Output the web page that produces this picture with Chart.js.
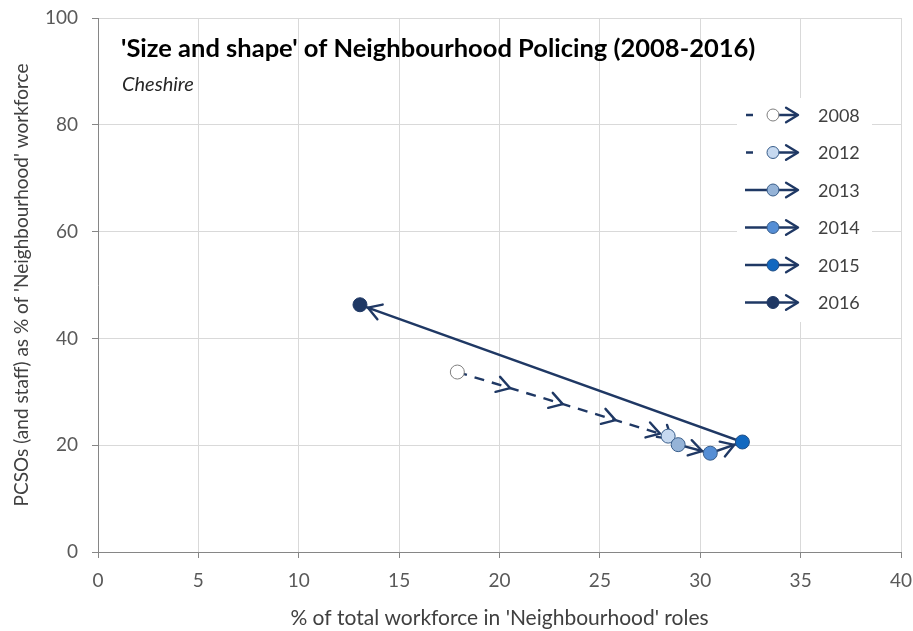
<!DOCTYPE html>
<html>
<head>
<meta charset="utf-8">
<script src="https://cdn.jsdelivr.net/npm/chart.js@4.4.1/dist/chart.umd.min.js"></script>
<style>
  body { margin: 0; background: #fff; }
</style>
</head>
<body>
<canvas id="policing" width="913" height="631"></canvas>
<script>
// values
const years = ['2008', '2012', '2013', '2014', '2015', '2016'];
const neighbourhoodShare = [17.9, 28.4, 28.9, 30.5, 32.1, 13.05];
const pcsoShare = [33.7, 21.7, 20.1, 18.5, 20.6, 46.3];
const xTicks = [0, 5, 10, 15, 20, 25, 30, 35, 40];
const yTicks = [0, 20, 40, 60, 80, 100];

const markerFill = ['#ffffff', '#c6d9f0', '#95b3d7', '#558ed5', '#1168c0', '#1f3864'];
const markerEdge = ['#7f7f7f', '#385d8a', '#385d8a', '#385d8a', '#1f4e86', '#1f3864'];
const lineColour = '#1f3864';
const FONT = 'Lato, "Open Sans", sans-serif';

function arrowHead(ctx, tipX, tipY, angle, len) {
    ctx.beginPath();
    ctx.moveTo(tipX - len * Math.cos(angle - 0.55), tipY - len * Math.sin(angle - 0.55));
    ctx.lineTo(tipX, tipY);
    ctx.lineTo(tipX - len * Math.cos(angle + 0.55), tipY - len * Math.sin(angle + 0.55));
    ctx.stroke();
}

// chevrons along the path: 3 mid-way ones on the dashed 2008-2012 stretch, one at each arrival
const arrowPlugin = {
    id: 'arrows',
    afterDatasetDraw(chart, args) {
        if (args.index !== 0) return;
        const ctx = chart.ctx, xs = chart.scales.x, ys = chart.scales.y;
        const px = neighbourhoodShare.map(v => xs.getPixelForValue(v));
        const py = pcsoShare.map(v => ys.getPixelForValue(v));
        ctx.save();
        ctx.strokeStyle = lineColour;
        ctx.lineWidth = 2.4;
        ctx.lineCap = 'round';
        ctx.lineJoin = 'round';
        for (let i = 1; i < px.length; i++) {
            const dx = px[i] - px[i - 1], dy = py[i] - py[i - 1];
            const len = Math.hypot(dx, dy);
            const a = Math.atan2(dy, dx);
            const stops = i === 1 ? [0.25, 0.5, 0.75] : [];
            stops.forEach(t => arrowHead(ctx, px[i - 1] + dx * t, py[i - 1] + dy * t, a, 15));
            const back = 8.5;
            arrowHead(ctx, px[i] - back * dx / len, py[i] - back * dy / len, a, 15);
        }
        ctx.restore();
    }
};

const textPlugin = {
    id: 'texts',
    afterDraw(chart) {
        const ctx = chart.ctx;
        ctx.save();
        ctx.textBaseline = 'middle';
        ctx.textAlign = 'left';
        ctx.fillStyle = '#000000';
        ctx.font = 'bold 25.5px ' + FONT;
        ctx.fillText("'Size and shape' of Neighbourhood Policing (2008-2016)", 121, 49);
        ctx.fillStyle = '#262626';
        ctx.font = 'italic 20px ' + FONT;
        ctx.fillText('Cheshire', 122, 85);

        // legend
        ctx.fillStyle = '#ffffff';
        ctx.fillRect(737, 98, 135, 224);
        years.forEach((yr, i) => {
            const y = 115 + i * 37.5;
            ctx.strokeStyle = lineColour;
            ctx.lineWidth = 2.4;
            ctx.lineCap = 'butt';
            ctx.beginPath();
            if (i < 2) {
                ctx.moveTo(746, y); ctx.lineTo(753, y);
                ctx.moveTo(779, y); ctx.lineTo(797, y);
            } else {
                ctx.moveTo(745, y); ctx.lineTo(797, y);
            }
            ctx.stroke();
            ctx.lineCap = 'round';
            ctx.lineJoin = 'round';
            arrowHead(ctx, 798, y, 0, 14);
            ctx.beginPath();
            ctx.arc(773, y, 6, 0, Math.PI * 2);
            ctx.fillStyle = markerFill[i];
            ctx.fill();
            ctx.lineWidth = 1;
            ctx.strokeStyle = markerEdge[i];
            ctx.stroke();
            ctx.fillStyle = '#404040';
            ctx.font = '18px ' + FONT;
            ctx.fillText(yr, 818, y + 1);
        });
        ctx.restore();
    }
};

const pathData = neighbourhoodShare.map((x, i) => ({ x: x, y: pcsoShare[i] }));

const markerSets = years.map((yr, i) => ({
    label: yr,
    data: [{ x: neighbourhoodShare[i], y: pcsoShare[i] }],
    showLine: false,
    pointRadius: 7,
    pointHoverRadius: 7,
    pointBackgroundColor: markerFill[i],
    pointBorderColor: markerEdge[i],
    pointBorderWidth: 1,
    order: 6 - i
}));

const axisStyle = {
    grid: { color: '#d9d9d9', tickColor: '#868686', tickLength: 6, lineWidth: 1 },
    border: { color: '#868686', width: 1 }
};

new Chart(document.getElementById('policing').getContext('2d'), {
    type: 'scatter',
    data: {
        datasets: [
            {
                label: 'path',
                data: pathData,
                showLine: true,
                borderColor: lineColour,
                borderWidth: 2.4,
                pointRadius: 0,
                pointHoverRadius: 0,
                segment: {
                    borderDash: ctx => ctx.p0DataIndex === 0 ? [10, 8] : undefined
                },
                order: 10
            },
            ...markerSets
        ]
    },
    options: {
        responsive: false,
        animation: false,
        devicePixelRatio: 1,
        layout: { padding: { top: 18, right: 12, left: 0, bottom: 0 } },
        plugins: {
            legend: { display: false },
            tooltip: { enabled: false }
        },
        scales: {
            x: {
                type: 'linear',
                min: 0,
                max: 40,
                afterBuildTicks: s => { s.ticks = xTicks.map(v => ({ value: v })); },
                afterFit: s => { s.height = 79; s.paddingLeft = 0; s.paddingRight = 0; },
                ticks: { color: '#595959', font: { family: FONT, size: 19 }, padding: 11, maxRotation: 0 },
                title: {
                    display: true,
                    text: "% of total workforce in 'Neighbourhood' roles",
                    color: '#404040',
                    font: { family: FONT, size: 21 },
                    padding: { top: 0, bottom: 0 }
                },
                ...axisStyle
            },
            y: {
                type: 'linear',
                min: 0,
                max: 100,
                afterBuildTicks: s => { s.ticks = yTicks.map(v => ({ value: v })); },
                afterFit: s => { s.width = 98; s.paddingTop = 0; s.paddingBottom = 0; },
                ticks: { color: '#595959', font: { family: FONT, size: 19 }, padding: 14 },
                title: {
                    display: true,
                    text: "PCSOs (and staff) as % of 'Neighbourhood' workforce",
                    color: '#404040',
                    font: { family: FONT, size: 19 },
                    padding: { top: 10, bottom: 10 }
                },
                ...axisStyle
            }
        }
    },
    plugins: [arrowPlugin, textPlugin]
});
</script>
</body>
</html>
